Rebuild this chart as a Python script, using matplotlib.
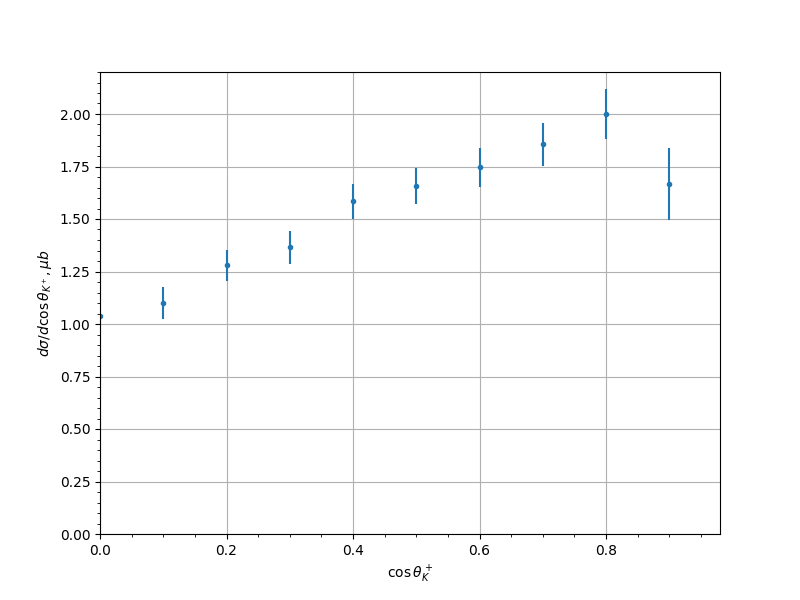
import matplotlib
matplotlib.use('Agg')
import matplotlib.pyplot as plt

cos_theta = [0.0, 0.1, 0.2, 0.3, 0.4, 0.5, 0.6, 0.7, 0.8, 0.9]
dsigma = [1.04, 1.10, 1.28, 1.365, 1.585, 1.657, 1.747, 1.856, 2.0, 1.666]
dsigma_err = [0.0, 0.074, 0.074, 0.077, 0.083, 0.085, 0.093, 0.102, 0.117, 0.172]

fig, ax = plt.subplots(figsize=(8, 6), dpi=100)
ax.errorbar(cos_theta, dsigma, yerr=dsigma_err, fmt='.')
ax.set_xlim(0, 0.98)
ax.set_ylim(0, 2.2)
ax.minorticks_on()
ax.grid(which='major')
ax.set_xlabel(r'$\cos\theta_K^+$')
ax.set_ylabel(r'$d\sigma/d\cos\theta_{K^+}, \mu b$')

plt.savefig('out.png')
